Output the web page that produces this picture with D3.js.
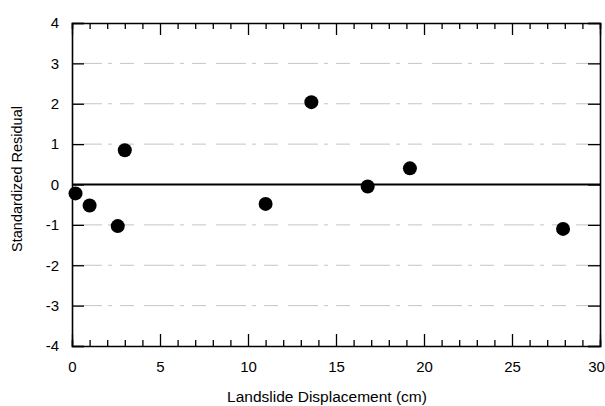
<!DOCTYPE html>
<html>
<head>
<meta charset="utf-8">
<script src="https://cdn.jsdelivr.net/npm/d3@7"></script>
<style>
  body { margin: 0; background: #fff; }
  text { font-family: "Liberation Sans", Arial, sans-serif; fill: #000; }
</style>
</head>
<body>
<svg id="chart"></svg>
<script>
// residuals
const displacement = [0.2, 1.0, 2.6, 3.0, 11.0, 13.6, 16.8, 19.2, 27.9];
const residual = [-0.22, -0.52, -1.03, 0.85, -0.48, 2.04, -0.05, 0.4, -1.1];
const xTicks = [0, 5, 10, 15, 20, 25, 30];
const yTicks = [-4, -3, -2, -1, 0, 1, 2, 3, 4];

const svgWidth = 605;
const svgHeight = 406;
const margin = { top: 23, right: 5, bottom: 60, left: 72 };
const width = svgWidth - margin.left - margin.right;
const height = svgHeight - margin.top - margin.bottom;

const svg = d3.select('#chart')
  .attr('width', svgWidth)
  .attr('height', svgHeight);

const g = svg.append('g')
  .attr('transform', `translate(${margin.left}, ${margin.top})`);

const xScale = d3.scaleLinear().domain([0, 30]).range([0, width]);
const yScale = d3.scaleLinear().domain([-4, 4]).range([height, 0]);

// plain hyphen minus like the original
const fmt = d => String(d);

// faint gridlines
g.selectAll('.grid')
  .data(yTicks.filter(d => d !== 0 && d !== 4 && d !== -4))
  .enter()
  .append('line')
    .attr('x1', 0)
    .attr('x2', width)
    .attr('y1', d => yScale(d))
    .attr('y2', d => yScale(d))
    .attr('stroke', '#c4c4c4')
    .attr('stroke-width', 1)
    .attr('stroke-dasharray', '30,6,4,8,14,10');

// zero line
g.append('line')
  .attr('x1', 0)
  .attr('x2', width)
  .attr('y1', yScale(0))
  .attr('y2', yScale(0))
  .attr('stroke', '#000')
  .attr('stroke-width', 2);

const minor = d3.range(0, 31, 1);

// bottom axis, ticks inward
const xBottom = g.append('g')
  .attr('transform', `translate(0, ${height})`)
  .call(d3.axisBottom(xScale).tickValues(minor).tickSize(-6).tickFormat(''));
xBottom.selectAll('.tick line').attr('y2', d => d % 5 === 0 ? -12 : -6);

g.append('g')
  .attr('transform', `translate(0, ${height})`)
  .call(d3.axisBottom(xScale).tickValues(xTicks).tickSize(0).tickPadding(15).tickFormat(fmt))
  .call(a => a.select('.domain').remove())
  .selectAll('text')
    .attr('font-size', 15)
    .attr('dx', d => d === 30 ? -4 : 0);

// top axis, ticks inward
const xTop = g.append('g')
  .call(d3.axisTop(xScale).tickValues(minor).tickSize(-6).tickFormat(''));
xTop.selectAll('.tick line').attr('y2', d => d % 5 === 0 ? 12 : 6);

// left axis
g.append('g')
  .call(d3.axisLeft(yScale).tickValues(yTicks).tickSize(-12).tickPadding(13).tickFormat(fmt))
  .selectAll('text')
    .attr('font-size', 15);

// right axis
g.append('g')
  .attr('transform', `translate(${width}, 0)`)
  .call(d3.axisRight(yScale).tickValues(yTicks).tickSize(-12).tickFormat(''));

svg.selectAll('.domain').attr('stroke', '#000').attr('stroke-width', 1.6);
svg.selectAll('.tick line').attr('stroke', '#000').attr('stroke-width', 1.3);

// points
g.selectAll('.dot')
  .data(displacement)
  .enter()
  .append('circle')
    .attr('class', 'dot')
    .attr('cx', d => xScale(d))
    .attr('cy', (d, i) => yScale(residual[i]))
    .attr('r', 7)
    .attr('fill', '#000');

// axis titles
svg.append('text')
  .attr('x', 327)
  .attr('y', 402)
  .attr('text-anchor', 'middle')
  .attr('font-size', 15.5)
  .text('Landslide Displacement (cm)');

svg.append('text')
  .attr('transform', 'translate(22, 179) rotate(-90)')
  .attr('text-anchor', 'middle')
  .attr('font-size', 14.5)
  .text('Standardized Residual');
</script>
</body>
</html>
